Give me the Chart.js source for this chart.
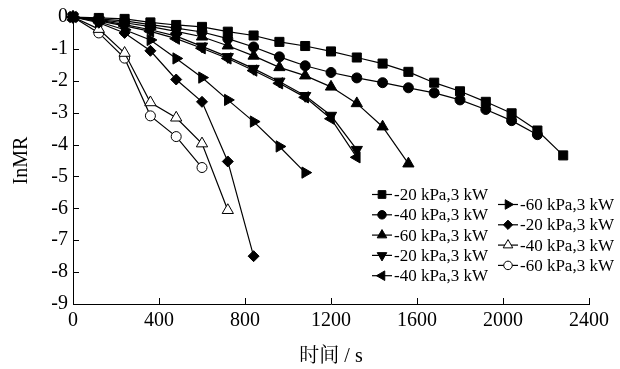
<!DOCTYPE html>
<html>
<head>
<meta charset="utf-8">
<script src="https://cdn.jsdelivr.net/npm/chart.js@4/dist/chart.umd.min.js"></script>
<style>
  html, body { margin: 0; padding: 0; background: #fff; }
  #wrap { width: 620px; height: 369px; }
</style>
</head>
<body>
<div id="wrap"><canvas id="chart" width="620" height="369"></canvas></div>
<script>
// drying time (s), one reading every 120 s
const times = [0, 120, 240, 360, 480, 600, 720, 840, 960, 1080, 1200, 1320, 1440, 1560, 1680, 1800, 1920, 2040, 2160, 2280];

// lnMR readings per run
const s20a = [0, -0.03, -0.06, -0.17, -0.25, -0.31, -0.46, -0.58, -0.78, -0.91, -1.08, -1.27, -1.46, -1.72, -2.06, -2.33, -2.66, -3.02, -3.56, -4.34];
const s40a = [0, -0.06, -0.12, -0.24, -0.35, -0.47, -0.68, -0.94, -1.25, -1.53, -1.74, -1.91, -2.06, -2.22, -2.38, -2.6, -2.9, -3.25, -3.69];
const s60a = [0, -0.08, -0.18, -0.3, -0.45, -0.62, -0.9, -1.22, -1.58, -1.84, -2.19, -2.71, -3.44, -4.6];
const s20b = [0, -0.1, -0.24, -0.4, -0.6, -0.92, -1.25, -1.62, -2.02, -2.47, -3.09, -4.16];
const s40b = [0, -0.12, -0.28, -0.45, -0.68, -0.98, -1.3, -1.68, -2.08, -2.52, -3.19, -4.4];
const s60b = [0, -0.15, -0.4, -0.72, -1.3, -1.9, -2.6, -3.28, -4.06, -4.88];
const s20c = [0, -0.18, -0.5, -1.06, -1.96, -2.66, -4.53, -7.5];
const s40c = [0, -0.38, -1.13, -2.68, -3.16, -3.97, -6.06];
const s60c = [0, -0.5, -1.29, -3.1, -3.75, -4.72];

const labels = ['-20 kPa,3 kW', '-40 kPa,3 kW', '-60 kPa,3 kW', '-20 kPa,3 kW', '-40 kPa,3 kW',
                '-60 kPa,3 kW', '-20 kPa,3 kW', '-40 kPa,3 kW', '-60 kPa,3 kW'];

const xTicks = [0, 400, 800, 1200, 1600, 2000, 2400];
const yTicks = [0, -1, -2, -3, -4, -5, -6, -7, -8, -9];

const SERIF = "'Liberation Serif', 'Times New Roman', 'Noto Serif CJK SC', 'Noto Sans CJK SC', serif";

// marker looks for each run
const markers = [
  { style: 'rect', rot: 0, r: 6.4, fill: '#000' },
  { style: 'circle', rot: 0, r: 5, fill: '#000' },
  { style: 'triangle', rot: 0, r: 6.5, fill: '#000' },
  { style: 'triangle', rot: 180, r: 6.5, fill: '#000' },
  { style: 'triangle', rot: 270, r: 6.5, fill: '#000' },
  { style: 'triangle', rot: 90, r: 6.5, fill: '#000' },
  { style: 'rectRot', rot: 0, r: 5.5, fill: '#000' },
  { style: 'triangle', rot: 0, r: 6.5, fill: '#fff' },
  { style: 'circle', rot: 0, r: 5, fill: '#fff' }
];

const series = [s20a, s40a, s60a, s20b, s40b, s60b, s20c, s40c, s60c];

const datasets = series.map((vals, i) => ({
  label: labels[i],
  data: vals.map((v, j) => ({ x: times[j], y: v })),
  borderColor: '#000',
  borderWidth: 1.2,
  backgroundColor: markers[i].fill,
  pointStyle: markers[i].style,
  pointRotation: markers[i].rot,
  pointRadius: markers[i].r,
  pointBackgroundColor: markers[i].fill,
  pointBorderColor: '#000',
  pointBorderWidth: 1,
  tension: 0,
  clip: false
}));

// inward tick marks + two-column legend inside the plot
const extras = {
  id: 'extras',
  afterDraw(chart) {
    const ctx = chart.ctx;
    const xs = chart.scales.x, ys = chart.scales.y;
    const area = chart.chartArea;
    ctx.save();
    ctx.strokeStyle = '#000';
    ctx.lineWidth = 1;
    ctx.beginPath();
    xTicks.forEach(v => {
      if (v === 0) return;
      const px = Math.round(xs.getPixelForValue(v)) + 0.5;
      ctx.moveTo(px, area.bottom);
      ctx.lineTo(px, area.bottom - 6);
    });
    yTicks.forEach(v => {
      if (v === -9) return;
      const py = Math.round(ys.getPixelForValue(v)) + 0.5;
      ctx.moveTo(area.left, py);
      ctx.lineTo(area.left + 6, py);
    });
    ctx.stroke();

    // legend
    const cols = [
      { x: 372, y: 194.5, items: [0, 1, 2, 3, 4] },
      { x: 498, y: 204.5, items: [5, 6, 7, 8] }
    ];
    ctx.font = '17px ' + SERIF;
    ctx.textBaseline = 'middle';
    ctx.textAlign = 'left';
    cols.forEach(col => {
      col.items.forEach((idx, k) => {
        const y = col.y + k * 20.3;
        const m = markers[idx];
        ctx.strokeStyle = '#000';
        ctx.lineWidth = 1.2;
        ctx.beginPath();
        ctx.moveTo(col.x, y);
        ctx.lineTo(col.x + 20, y);
        ctx.stroke();
        ctx.fillStyle = m.fill;
        ctx.lineWidth = 1;
        Chart.helpers.drawPoint(ctx, {
          pointStyle: m.style, rotation: m.rot, radius: m.r * 0.85, borderWidth: 1
        }, col.x + 10, y);
        ctx.fillStyle = '#000';
        ctx.fillText(labels[idx], col.x + 22, y + 1);
      });
    });
    ctx.restore();
  }
};

new Chart(document.getElementById('chart'), {
  type: 'line',
  data: { datasets },
  options: {
    responsive: false,
    animation: false,
    layout: { padding: { left: 0, right: 31, top: 16, bottom: 0 } },
    plugins: { legend: { display: false }, tooltip: { enabled: false } },
    scales: {
      x: {
        type: 'linear',
        min: 0,
        max: 2400,
        afterBuildTicks: s => { s.ticks = xTicks.map(v => ({ value: v })); },
        afterFit: s => { s.height = 65; },
        grid: { display: false, drawTicks: false },
        border: { display: true, color: '#000', width: 1 },
        ticks: {
          color: '#000',
          padding: 5,
          maxRotation: 0,
          font: { family: SERIF, size: 20 },
          callback: v => String(v)
        },
        title: {
          display: true,
          text: '时间 / s',
          color: '#000',
          font: { family: SERIF, size: 20 },
          padding: { top: 0, bottom: 0 }
        }
      },
      y: {
        min: -9,
        max: 0,
        afterBuildTicks: s => { s.ticks = yTicks.map(v => ({ value: v })); },
        afterFit: s => { s.width = 73; },
        grid: { display: false, drawTicks: false },
        border: { display: true, color: '#000', width: 1 },
        ticks: {
          color: '#000',
          padding: 5,
          font: { family: SERIF, size: 20 },
          callback: v => String(v)
        },
        title: {
          display: true,
          text: 'InMR',
          color: '#000',
          font: { family: SERIF, size: 20 },
          padding: { top: 10, bottom: 0 }
        }
      }
    }
  },
  plugins: [extras]
});
</script>
</body>
</html>
